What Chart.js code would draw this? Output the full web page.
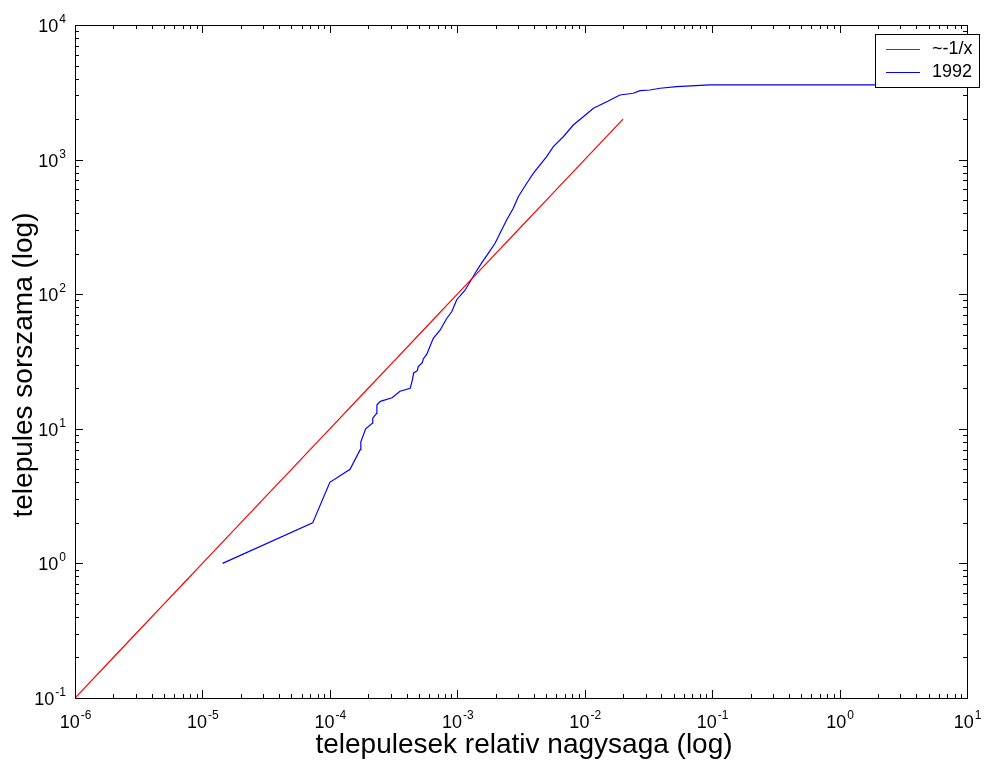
<!DOCTYPE html>
<html lang="hu">
<head>
  <meta charset="UTF-8">
  <title>telepulesek rang-meret</title>
  <style>
    *{margin:0;padding:0;box-sizing:border-box;}
    body{background:#fff;}
    #wrap{width:989px;height:765px;}
  </style>
  <script src="https://cdn.jsdelivr.net/npm/chart.js@4.4.0/dist/chart.umd.min.js"></script>
</head>
<body>
  <div id="wrap"><canvas id="chart" width="989" height="765"></canvas></div>
  <script>
    // ~-1/x reference line
    const refX = [1e-6, 2e-6, 3e-6, 5e-6, 7e-6, 1e-5, 1.5e-5, 2e-5, 3e-5, 5e-5, 7e-5, 1e-4, 2e-4, 3e-4, 5e-4, 1e-3, 2e-3, 3e-3, 5e-3, 1e-2, 2e-2];
    const refY = [0.1, 0.2, 0.3, 0.5, 0.7, 1, 1.5, 2, 3, 5, 7, 10, 20, 30, 50, 100, 200, 300, 500, 1000, 2000];

    // 1992 settlements: relative size vs rank
    const y1992X = [1.44e-5, 7.33e-5, 1.0e-4, 1.44e-4, 1.73e-4, 1.75e-4, 1.91e-4, 2.15e-4, 2.17e-4, 2.33e-4, 2.34e-4, 2.49e-4,
      3.08e-4, 3.55e-4, 4.27e-4, 4.44e-4, 4.55e-4, 4.86e-4, 4.94e-4, 5.31e-4, 5.41e-4, 5.78e-4, 6.11e-4, 6.48e-4,
      7.32e-4, 8.26e-4, 9.04e-4, 9.9e-4, 1.15e-3, 1.38e-3, 1.55e-3, 1.75e-3, 1.98e-3, 2.16e-3, 2.44e-3, 2.75e-3,
      3.01e-3, 3.51e-3, 3.95e-3, 4.46e-3, 5.03e-3, 5.67e-3, 6.79e-3, 8.13e-3, 9.75e-3, 1.17e-2, 1.49e-2, 1.89e-2,
      2.40e-2, 2.72e-2, 3.25e-2, 3.90e-2, 5.27e-2, 9.6e-2, 2];
    const y1992Y = [1, 2, 4, 5, 7, 8, 10, 11, 12, 13, 15, 16,
      17, 19, 20, 23, 26, 27, 29, 31, 33, 36, 41, 47,
      54, 66, 74, 91, 107, 143, 170, 201, 239, 283, 356, 435,
      530, 667, 791, 912, 1051, 1247, 1479, 1807, 2083, 2405, 2692, 3020,
      3110, 3250, 3290, 3388, 3481, 3585, 3585];

    const xDecades = [-6, -5, -4, -3, -2, -1, 0, 1];
    const yDecades = [-1, 0, 1, 2, 3, 4];

    const FONT = '"Liberation Sans", Arial, Helvetica, sans-serif';
    const pts = (xs, ys) => xs.map((x, i) => ({x, y: ys[i]}));

    function drawPow(ctx, e, x, y, align) {
      const base = '10', exp = String(e);
      ctx.font = '18px ' + FONT;
      const wb = ctx.measureText(base).width;
      ctx.font = '12px ' + FONT;
      const we = ctx.measureText(exp).width;
      let x0 = align === 'center' ? x - (wb + we) / 2 : x - wb - we;
      ctx.textAlign = 'left';
      ctx.textBaseline = 'alphabetic';
      ctx.font = '18px ' + FONT;
      ctx.fillText(base, x0, y);
      ctx.font = '12px ' + FONT;
      ctx.fillText(exp, x0 + wb + 1, y - 9);
    }

    const frame = {
      id: 'frame',
      afterDatasetsDraw(chart) {
        const {ctx, chartArea: a, scales: {x, y}} = chart;
        ctx.save();
        ctx.strokeStyle = '#000';
        ctx.fillStyle = '#000';
        ctx.lineWidth = 1;
        ctx.strokeRect(a.left + 0.5, a.top + 0.5, a.right - a.left, a.bottom - a.top);

        ctx.beginPath();
        xDecades.forEach(d => {
          for (let m = 1; m <= 9; m++) {
            const v = m * Math.pow(10, d);
            if (v > x.max * 1.0001) break;
            const px = Math.round(x.getPixelForValue(v)) + 0.5;
            const len = m === 1 ? 8 : 4;
            ctx.moveTo(px, a.bottom); ctx.lineTo(px, a.bottom - len);
            ctx.moveTo(px, a.top); ctx.lineTo(px, a.top + len);
          }
        });
        yDecades.forEach(d => {
          for (let m = 1; m <= 9; m++) {
            const v = m * Math.pow(10, d);
            if (v > y.max * 1.0001) break;
            const py = Math.round(y.getPixelForValue(v)) + 0.5;
            const len = m === 1 ? 8 : 4;
            ctx.moveTo(a.left, py); ctx.lineTo(a.left + len, py);
            ctx.moveTo(a.right, py); ctx.lineTo(a.right - len, py);
          }
        });
        ctx.stroke();

        xDecades.forEach(d => drawPow(ctx, d, x.getPixelForValue(Math.pow(10, d)), a.bottom + 30, 'center'));
        yDecades.forEach(d => drawPow(ctx, d, a.left - 10, y.getPixelForValue(Math.pow(10, d)) + 7, 'right'));

        ctx.font = '28px ' + FONT;
        ctx.textAlign = 'center';
        ctx.textBaseline = 'alphabetic';
        ctx.fillText('telepulesek relativ nagysaga (log)', 524, 753);
        ctx.save();
        ctx.translate(32, 365);
        ctx.rotate(-Math.PI / 2);
        ctx.fillText('telepules sorszama (log)', 0, 0);
        ctx.restore();

        // legend box
        const lx = 875, ly = 34, lw = 104, lh = 53;
        ctx.fillStyle = '#fff';
        ctx.fillRect(lx, ly, lw, lh);
        ctx.strokeStyle = '#000';
        ctx.strokeRect(lx + 0.5, ly + 0.5, lw, lh);
        ctx.font = '18px ' + FONT;
        ctx.textAlign = 'left';
        ctx.textBaseline = 'middle';
        chart.data.datasets.forEach((ds, i) => {
          const yy = ly + 15 + i * 23;
          ctx.fillStyle = ds.borderColor;
          ctx.fillRect(886, yy, 34, 1);
          ctx.fillStyle = '#000';
          ctx.fillText(ds.label, 932, yy);
        });
        ctx.restore();
      }
    };

    new Chart(document.getElementById('chart'), {
      type: 'scatter',
      data: {
        datasets: [
          {label: '~-1/x', data: pts(refX, refY), borderColor: '#ff0000', borderWidth: 1.2, showLine: true, pointRadius: 0},
          {label: '1992', data: pts(y1992X, y1992Y), borderColor: '#0000ff', borderWidth: 1.2, showLine: true, pointRadius: 0}
        ]
      },
      options: {
        responsive: false,
        animation: false,
        layout: {padding: {left: 75, right: 22, top: 25, bottom: 67}},
        plugins: {legend: {display: false}, tooltip: {enabled: false}},
        scales: {
          x: {type: 'logarithmic', min: 1e-6, max: 10, display: false},
          y: {type: 'logarithmic', min: 0.1, max: 1e4, display: false}
        }
      },
      plugins: [frame]
    });
  </script>
</body>
</html>
